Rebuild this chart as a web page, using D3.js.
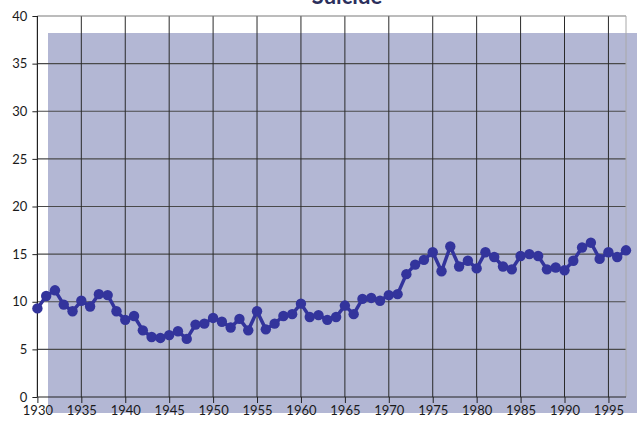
<!DOCTYPE html>
<html>
<head>
<meta charset="utf-8">
<script src="https://cdn.jsdelivr.net/npm/d3@7"></script>
<style>
  html, body { margin: 0; padding: 0; background: #ffffff; }
  svg { display: block; }
  text { font-family: Lato, "Open Sans", sans-serif; }
</style>
</head>
<body>
<svg id="chart" width="637" height="422"></svg>
<script>
// Suicide rate by year
const years = [
  1930, 1931, 1932, 1933, 1934, 1935, 1936, 1937, 1938, 1939,
  1940, 1941, 1942, 1943, 1944, 1945, 1946, 1947, 1948, 1949,
  1950, 1951, 1952, 1953, 1954, 1955, 1956, 1957, 1958, 1959,
  1960, 1961, 1962, 1963, 1964, 1965, 1966, 1967, 1968, 1969,
  1970, 1971, 1972, 1973, 1974, 1975, 1976, 1977, 1978, 1979,
  1980, 1981, 1982, 1983, 1984, 1985, 1986, 1987, 1988, 1989,
  1990, 1991, 1992, 1993, 1994, 1995, 1996, 1997
];
const rates = [
  9.3, 10.6, 11.2, 9.7, 9.0, 10.1, 9.5, 10.8, 10.7, 9.0,
  8.1, 8.5, 7.0, 6.3, 6.2, 6.5, 6.9, 6.1, 7.6, 7.7,
  8.3, 7.9, 7.3, 8.2, 7.0, 9.0, 7.1, 7.7, 8.5, 8.7,
  9.8, 8.4, 8.6, 8.1, 8.4, 9.6, 8.7, 10.3, 10.4, 10.1,
  10.7, 10.8, 12.9, 13.9, 14.4, 15.2, 13.2, 15.8, 13.7, 14.3,
  13.5, 15.2, 14.7, 13.7, 13.4, 14.8, 15.0, 14.8, 13.4, 13.6,
  13.3, 14.3, 15.7, 16.2, 14.5, 15.2, 14.7, 15.4
];
const xTicks = [1930, 1935, 1940, 1945, 1950, 1955, 1960, 1965, 1970, 1975, 1980, 1985, 1990, 1995];
const yTicks = [0, 5, 10, 15, 20, 25, 30, 35, 40];
const title = "Suicide";

const svg = d3.select("#chart");
const plotLeft = 37.4, plotRight = 626, plotTop = 16, plotBottom = 397;

const x = d3.scaleLinear().domain([1930, 1997]).range([plotLeft, plotRight]);
const y = d3.scaleLinear().domain([0, 40]).range([plotBottom, plotTop]);

// shaded panel behind the plot
svg.append("rect")
  .attr("x", 48).attr("y", 33)
  .attr("width", 637 - 48).attr("height", 413 - 33)
  .attr("fill", "#b3b7d4");

// title (sits at the very top edge)
svg.append("text")
  .attr("x", 347).attr("y", 4)
  .attr("text-anchor", "middle")
  .attr("font-size", 22).attr("font-weight", "bold")
  .attr("fill", "#2b2f5c")
  .text(title);

// horizontal grid
svg.append("g")
  .selectAll("line").data(yTicks.filter(d => d > 0 && d < 40)).join("line")
  .attr("x1", plotLeft).attr("x2", plotRight)
  .attr("y1", d => y(d)).attr("y2", d => y(d))
  .attr("stroke", "#4a4a4a").attr("stroke-width", 1.2);

// vertical grid
svg.append("g")
  .selectAll("line").data(xTicks.filter(d => d > 1930)).join("line")
  .attr("x1", d => x(d)).attr("x2", d => x(d))
  .attr("y1", plotTop).attr("y2", plotBottom)
  .attr("stroke", "#2a2a2a").attr("stroke-width", 1);

// frame: top and right
svg.append("line").attr("x1", plotLeft).attr("x2", plotRight).attr("y1", plotTop).attr("y2", plotTop)
  .attr("stroke", "#7a7a7a").attr("stroke-width", 1.2);
svg.append("line").attr("x1", plotRight).attr("x2", plotRight).attr("y1", plotTop).attr("y2", plotBottom)
  .attr("stroke", "#a8a8a8").attr("stroke-width", 1);

// axes
const xAxis = d3.axisBottom(x).tickValues(xTicks).tickFormat(d3.format("d")).tickSize(6).tickPadding(3);
const yAxis = d3.axisLeft(y).tickValues(yTicks).tickSize(5).tickPadding(5);

const gx = svg.append("g").attr("transform", `translate(0,${plotBottom})`).call(xAxis);
const gy = svg.append("g").attr("transform", `translate(${plotLeft},0)`).call(yAxis);
[gx, gy].forEach(g => {
  g.select(".domain").attr("stroke", "#222").attr("stroke-width", 1.2);
  g.selectAll(".tick line").attr("stroke", "#222").attr("stroke-width", 1);
  g.selectAll(".tick text").attr("font-size", 13).attr("fill", "#1a1a1a")
    .attr("font-family", "Lato, 'Open Sans', sans-serif");
});
gx.select(".domain").attr("d", `M${plotLeft},0H${plotRight}`);
gy.select(".domain").attr("d", `M0,${plotBottom}V${plotTop}`);

// series line and markers
const pts = years.map((yr, i) => ({ yr, v: rates[i] }));
const lineGen = d3.line().x(d => x(d.yr)).y(d => y(d.v));
svg.append("path").datum(pts)
  .attr("d", lineGen)
  .attr("fill", "none")
  .attr("stroke", "#33349c").attr("stroke-width", 3.5)
  .attr("stroke-linejoin", "round");
svg.append("g").selectAll("circle").data(pts).join("circle")
  .attr("cx", d => x(d.yr)).attr("cy", d => y(d.v))
  .attr("r", 5.2)
  .attr("fill", "#33349c");
</script>
</body>
</html>
